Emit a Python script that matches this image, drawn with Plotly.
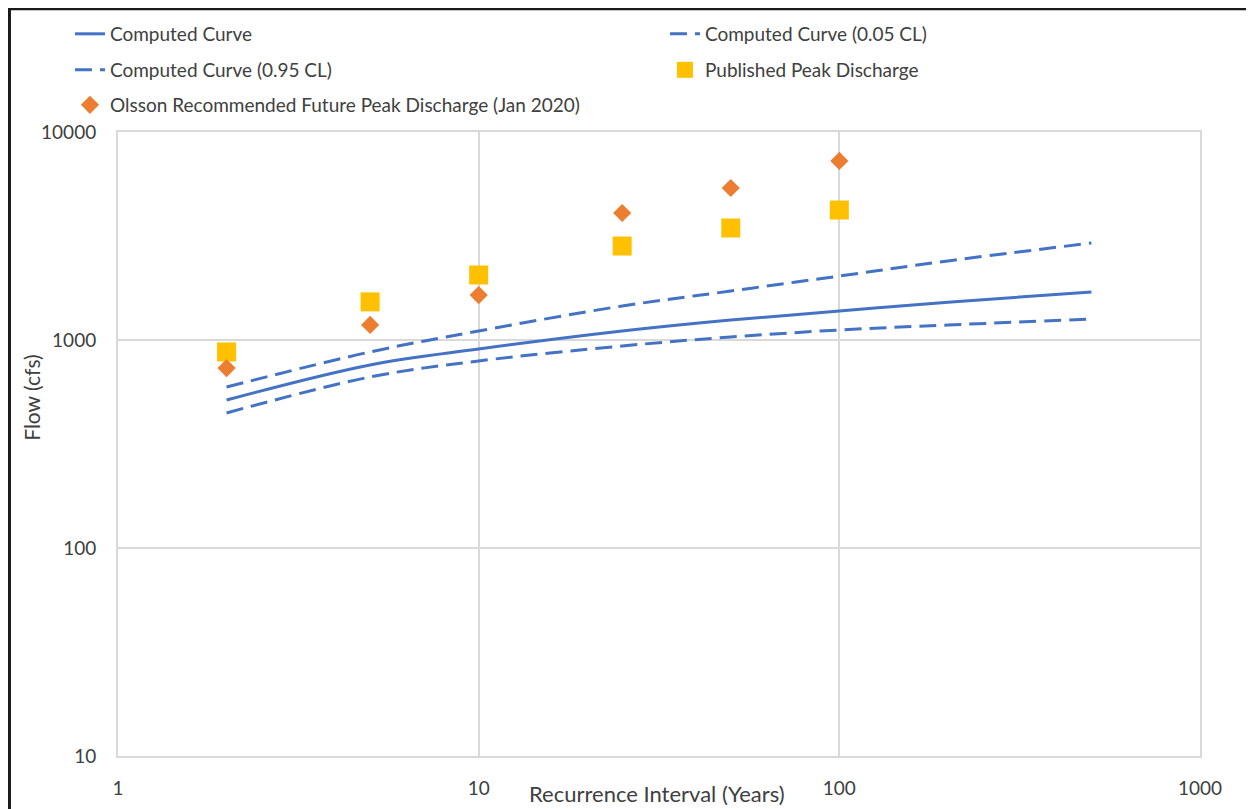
import plotly.graph_objects as go

# Recurrence intervals (years)
curve_x = [2, 5, 10, 25, 50, 100, 200, 500]
computed = [515, 759, 905, 1105, 1248, 1378, 1520, 1702]
cl_005 = [594, 876, 1105, 1457, 1720, 2030, 2400, 2925]
cl_095 = [446, 664, 793, 936, 1034, 1117, 1180, 1262]

pts_x = [2, 5, 10, 25, 50, 100]
published = [876, 1525, 2054, 2830, 3455, 4215]
olsson = [733, 1181, 1645, 4080, 5380, 7260]

x_ticks = [1, 10, 100, 1000]
y_ticks = [10, 100, 1000, 10000]

BLUE = "#4472C4"
FONT = "Lato"
TXT = "#404040"

fig = go.Figure()
fig.add_trace(go.Scatter(x=curve_x, y=computed, mode="lines", name="Computed Curve",
                         legend="legend",
                         line=dict(color=BLUE, width=3, shape="spline")))
fig.add_trace(go.Scatter(x=curve_x, y=cl_005, mode="lines", name="Computed Curve (0.05 CL)",
                         legend="legend",
                         line=dict(color=BLUE, width=3, dash="17px,8px", shape="spline")))
fig.add_trace(go.Scatter(x=curve_x, y=cl_095, mode="lines", name="Computed Curve (0.95 CL)",
                         legend="legend2",
                         line=dict(color=BLUE, width=3, dash="17px,8px", shape="spline")))
fig.add_trace(go.Scatter(x=pts_x, y=published, mode="markers", name="Published Peak Discharge",
                         legend="legend2",
                         marker=dict(symbol="square", color="#FFC000", size=19)))
fig.add_trace(go.Scatter(x=pts_x, y=olsson, mode="markers",
                         name="Olsson Recommended Future Peak Discharge (Jan 2020)",
                         legend="legend3",
                         marker=dict(symbol="diamond", color="#ED7D31", size=14)))

def leg(y):
    return dict(orientation="h", x=-0.0444, y=y, xanchor="left", yanchor="middle",
                entrywidth=550, entrywidthmode="pixels",
                font=dict(family=FONT, size=19, color=TXT),
                bgcolor="rgba(0,0,0,0)")

# the page body adds an 8px offset, so the figure is 8px smaller on each axis
fig.update_layout(
    width=1246, height=801,
    margin=dict(l=110, r=54, t=124, b=53, autoexpand=False),
    paper_bgcolor="white", plot_bgcolor="white",
    font=dict(family=FONT, size=19, color=TXT),
    showlegend=True,
    legend=leg(1.1571),
    legend2=leg(1.0994),
    legend3=leg(1.0433),
    xaxis=dict(type="log", range=[0, 3], tickvals=x_ticks, ticktext=[str(v) for v in x_ticks],
               showgrid=True, gridcolor="#D9D9D9", gridwidth=2, zeroline=False,
               showline=True, linecolor="#D9D9D9", linewidth=2, mirror=True,
               ticks="", ticklabelstandoff=14, tickfont=dict(size=19, color=TXT)),
    yaxis=dict(type="log", range=[1, 4], tickvals=y_ticks, ticktext=[str(v) for v in y_ticks],
               showgrid=True, gridcolor="#D9D9D9", gridwidth=2, zeroline=False,
               showline=True, linecolor="#D9D9D9", linewidth=2, mirror=True,
               ticks="", ticklabelstandoff=16, tickfont=dict(size=19, color=TXT)),
    annotations=[
        dict(text="Recurrence Interval (Years)", xref="paper", yref="paper",
             x=0.498, y=-0.0593, xanchor="center", yanchor="middle", showarrow=False,
             font=dict(family=FONT, size=22, color=TXT)),
        dict(text="Flow (cfs)", xref="paper", yref="paper", textangle=-90,
             x=-0.0795, y=0.574, xanchor="center", yanchor="middle", showarrow=False,
             font=dict(family=FONT, size=21, color=TXT)),
    ],
    shapes=[
        dict(type="rect", xref="paper", yref="paper", x0=-0.1003, y0=-0.3, x1=1.2, y1=1.1975,
             line=dict(color="#1a1a1a", width=3), layer="above"),
    ],
)

fig.write_html("out.html")
